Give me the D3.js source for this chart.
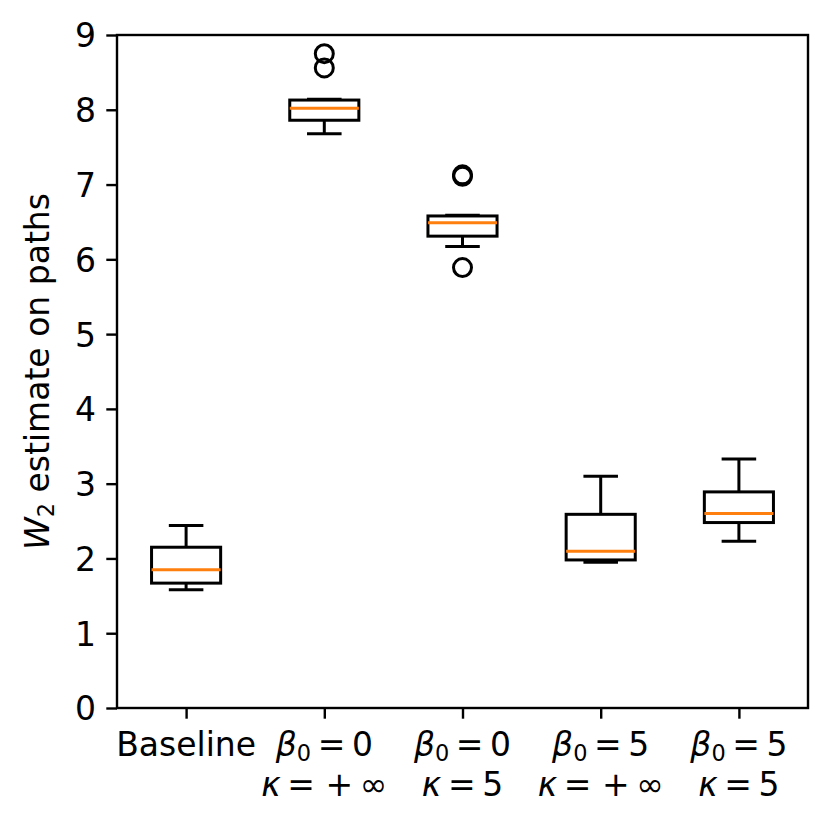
<!DOCTYPE html>
<html>
<head>
<meta charset="utf-8">
<script src="https://cdn.jsdelivr.net/npm/d3@7"></script>
<style>
  html, body { margin: 0; padding: 0; background: #fff; }
  text { font-family: "DejaVu Sans", sans-serif; }
</style>
</head>
<body>
<div id="chart"></div>
<script>
// ---- data ----
const categories = ["Baseline", "b0k_inf", "b0k5", "b5k_inf", "b5k5"];
const labelLine1 = [null, ["β", "0", "0"], ["β", "0", "0"], ["β", "0", "5"], ["β", "0", "5"]];
const labelLine2 = [null, "inf", "5", "inf", "5"];
const whiskerLow  = [1.58, 7.68, 6.17, 1.95, 2.23];
const q1          = [1.67, 7.86, 6.31, 1.98, 2.48];
const median      = [1.85, 8.02, 6.49, 2.095, 2.60];
const q3          = [2.15, 8.13, 6.58, 2.59, 2.89];
const whiskerHigh = [2.44, 8.14, 6.59, 3.10, 3.33];
const outliers    = [[], [8.56, 8.75], [5.89, 7.11, 7.13], [], []];
const yTicks = [0, 1, 2, 3, 4, 5, 6, 7, 8, 9];

// ---- layout ----
const W = 831, H = 828;
const margin = {left: 117, right: 23, top: 35, bottom: 120};
const fs = 33;
const subScale = 0.68, subDrop = 0.14;
const tickLen = 10.7, pad = 10.2;

const svg = d3.select("#chart").append("svg")
  .attr("width", W).attr("height", H);

const x = d3.scaleLinear().domain([0.5, 5.5]).range([margin.left, W - margin.right]);
const y = d3.scaleLinear().domain([0, 9]).range([H - margin.bottom, margin.top]);

const boxW = x(1.25) - x(0.75);
const capW = x(1.125) - x(0.875);

const data = categories.map((c, i) => ({
  i, pos: i + 1, lo: whiskerLow[i], q1: q1[i], med: median[i], q3: q3[i], hi: whiskerHigh[i], out: outliers[i]
}));

const g = svg.append("g");
const boxes = g.selectAll("g.box").data(data).enter().append("g").attr("class", "box");

// whiskers
boxes.append("line")
  .attr("x1", d => x(d.pos)).attr("x2", d => x(d.pos))
  .attr("y1", d => y(d.q3)).attr("y2", d => y(d.hi))
  .attr("stroke", "#000").attr("stroke-width", 3);
boxes.append("line")
  .attr("x1", d => x(d.pos)).attr("x2", d => x(d.pos))
  .attr("y1", d => y(d.q1)).attr("y2", d => y(d.lo))
  .attr("stroke", "#000").attr("stroke-width", 3);
// caps
boxes.append("line")
  .attr("x1", d => x(d.pos) - capW / 2).attr("x2", d => x(d.pos) + capW / 2)
  .attr("y1", d => y(d.hi)).attr("y2", d => y(d.hi))
  .attr("stroke", "#000").attr("stroke-width", 3);
boxes.append("line")
  .attr("x1", d => x(d.pos) - capW / 2).attr("x2", d => x(d.pos) + capW / 2)
  .attr("y1", d => y(d.lo)).attr("y2", d => y(d.lo))
  .attr("stroke", "#000").attr("stroke-width", 3);
// box
boxes.append("rect")
  .attr("x", d => x(d.pos) - boxW / 2).attr("width", boxW)
  .attr("y", d => y(d.q3)).attr("height", d => y(d.q1) - y(d.q3))
  .attr("fill", "none").attr("stroke", "#000").attr("stroke-width", 3);
// median
boxes.append("line")
  .attr("x1", d => x(d.pos) - boxW / 2).attr("x2", d => x(d.pos) + boxW / 2)
  .attr("y1", d => y(d.med)).attr("y2", d => y(d.med))
  .attr("stroke", "#ff7f0e").attr("stroke-width", 3);
// outliers
boxes.selectAll("circle").data(d => d.out.map(v => ({pos: d.pos, v}))).enter().append("circle")
  .attr("cx", d => x(d.pos)).attr("cy", d => y(d.v)).attr("r", 9)
  .attr("fill", "none").attr("stroke", "#000").attr("stroke-width", 3);

// frame
svg.append("rect")
  .attr("x", margin.left).attr("y", margin.top)
  .attr("width", W - margin.left - margin.right).attr("height", H - margin.top - margin.bottom)
  .attr("fill", "none").attr("stroke", "#000").attr("stroke-width", 2.4);

// y axis
const yAxis = svg.append("g").attr("transform", `translate(${margin.left},0)`)
  .call(d3.axisLeft(y).tickValues(yTicks).tickSize(tickLen).tickPadding(pad).tickFormat(d3.format("d")));
yAxis.select(".domain").remove();
yAxis.selectAll(".tick line").attr("stroke", "#000").attr("stroke-width", 2.4);
yAxis.selectAll(".tick text").attr("font-size", fs).attr("font-family", "DejaVu Sans").attr("fill", "#000")
  .attr("dy", "0.36em");

// x axis
const xAxis = svg.append("g").attr("transform", `translate(0,${H - margin.bottom})`)
  .call(d3.axisBottom(x).tickValues([1, 2, 3, 4, 5]).tickSize(tickLen).tickFormat(""));
xAxis.select(".domain").remove();
xAxis.selectAll(".tick line").attr("stroke", "#000").attr("stroke-width", 2.4);

// x tick labels (mathtext-like), one text element per line
const line1Y = 756, line2Y = 796;
data.forEach((d, i) => {
  const cx = x(d.pos);
  const t = svg.append("text").attr("x", cx).attr("y", line1Y).attr("text-anchor", "middle")
    .attr("font-size", fs);
  if (labelLine1[i] === null) {
    t.text(categories[i]);
    return;
  }
  const [greek, sub, val] = labelLine1[i];
  t.append("tspan").attr("font-style", "italic").text(greek);
  t.append("tspan").attr("font-size", fs * subScale).attr("dy", fs * subDrop).text(sub);
  t.append("tspan").attr("dy", -fs * subDrop).text("\u2009=\u2009" + val);

  const t2 = svg.append("text").attr("x", cx).attr("y", line2Y).attr("text-anchor", "middle")
    .attr("font-size", fs);
  t2.append("tspan").attr("font-style", "italic").text("κ");
  if (labelLine2[i] === "inf") {
    t2.append("tspan").text("\u2009=\u00a0+\u2009\u221e");
  } else {
    t2.append("tspan").text("\u2009=\u2009" + labelLine2[i]);
  }
});

// y label
const yl = svg.append("text")
  .attr("transform", `translate(49,${(margin.top + H - margin.bottom) / 2}) rotate(-90)`)
  .attr("text-anchor", "middle").attr("font-size", fs);
yl.append("tspan").attr("font-style", "italic").text("W");
yl.append("tspan").attr("font-size", fs * subScale).attr("dy", fs * subDrop).text("2");
yl.append("tspan").attr("dy", -fs * subDrop).text(" estimate on paths");
</script>
</body>
</html>
